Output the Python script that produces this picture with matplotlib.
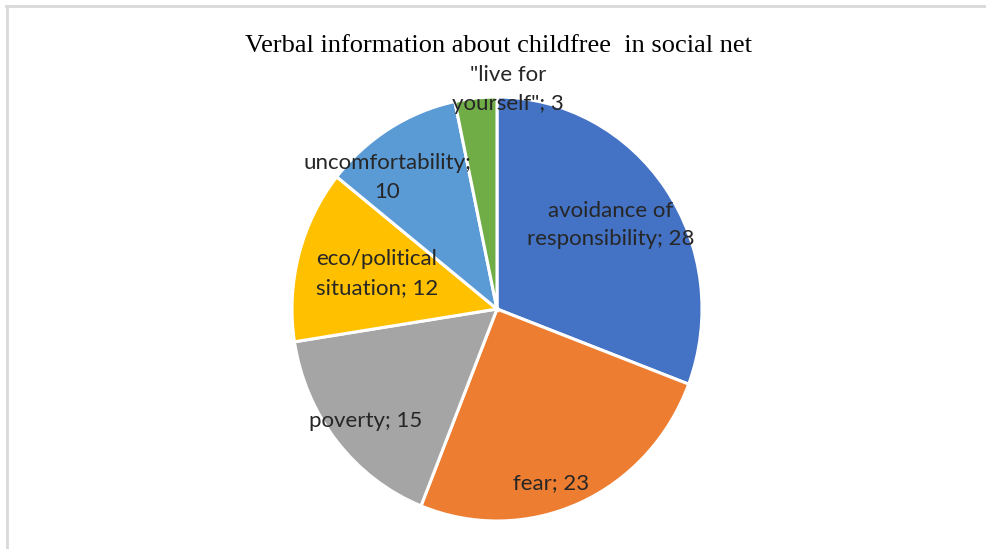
import matplotlib
matplotlib.use("Agg")
import matplotlib.pyplot as plt
import numpy as np
from matplotlib.lines import Line2D

categories = ["avoidance of responsibility", "fear", "poverty", "eco/political situation",
              "uncomfortability", "\"live for yourself\""]
values = [28, 23, 15, 12, 10, 3]
label_texts = ["avoidance of\nresponsibility; 28", "fear; 23", "poverty; 15",
               "eco/political\nsituation; 12", "uncomfortability;\n10", "\"live for\nyourself\"; 3"]
colors = ["#4472C4", "#ED7D31", "#A5A5A5", "#FFC000", "#5B9BD5", "#70AD47"]

W, H = 987, 549
fig = plt.figure(figsize=(W / 100, H / 100), dpi=100)
fig.patch.set_facecolor("white")

# frame lines (top and left)
fig.add_artist(Line2D([6 / W, 1], [1 - 6 / H, 1 - 6 / H], color="#d9d9d9", lw=2, transform=fig.transFigure))
fig.add_artist(Line2D([7 / W, 7 / W], [0, 1 - 6 / H], color="#d9d9d9", lw=2, transform=fig.transFigure))

cx, cy = 497, 309
rx, ry = 205, 212
ax = fig.add_axes([(cx - rx) / W, (H - cy - ry) / H, 2 * rx / W, 2 * ry / H])
wedges, _ = ax.pie(values, colors=colors, startangle=90, counterclock=False,
                   wedgeprops=dict(edgecolor="white", linewidth=2.2))
ax.set_xlim(-1, 1)
ax.set_ylim(-1, 1)
ax.set_aspect("auto")
ax.axis("off")

# label placement (radius fraction, angle offset deg)
place = [(0.68, 1), (0.86, -6), (0.83, 1), (0.61, -1), (0.82, 9), (1.035, -9)]
total = sum(values)
start = 90.0
for v, txt, (r, da) in zip(values, label_texts, place):
    span = v / total * 360
    mid = start - span / 2
    start -= span
    a = np.deg2rad(mid + da)
    ax.text(r * np.cos(a), r * np.sin(a), txt, ha="center", va="center",
            fontsize=16, family="Lato", color="#262626", linespacing=1.55, clip_on=False)

fig.text(499 / W, 1 - 46 / H, "Verbal information about childfree  in social net",
         ha="center", va="center", fontsize=19, family="Liberation Serif", color="black")

fig.savefig("out.png", dpi=100)
